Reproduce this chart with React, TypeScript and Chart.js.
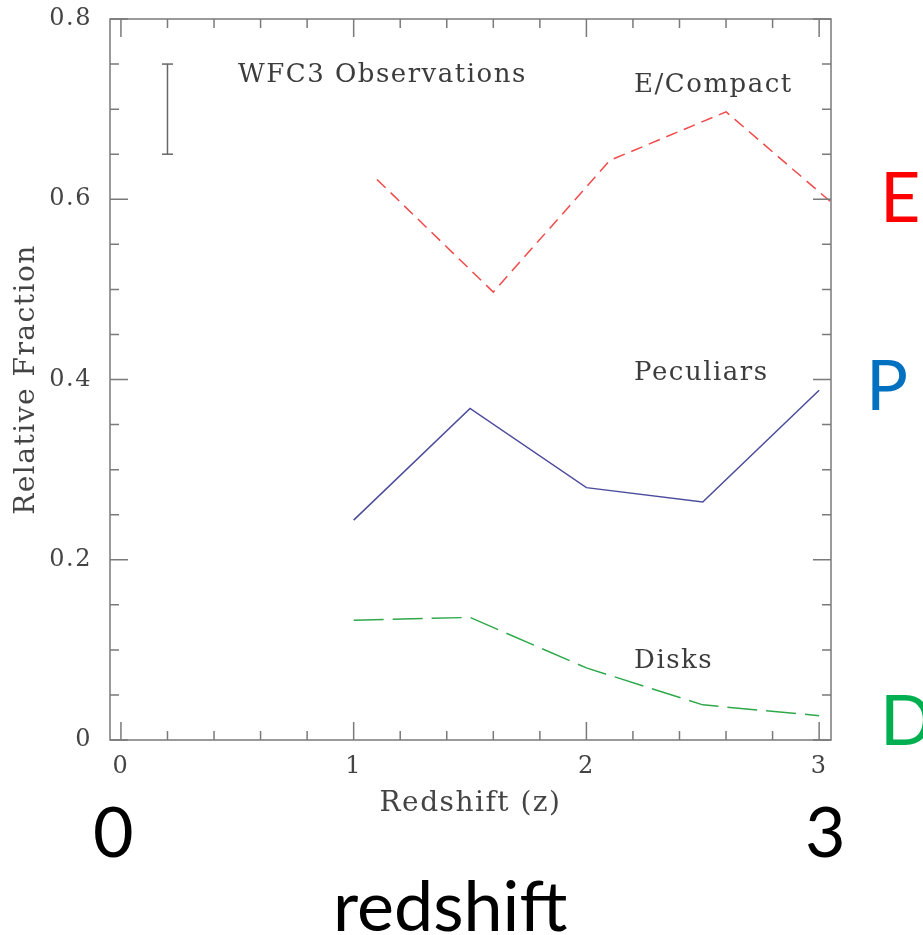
import React, { useEffect, useRef } from "react";
import { Chart, registerables } from "chart.js";

Chart.register(...registerables);

// ---- data ----
const Z_PECULIARS = [1, 1.5, 2, 2.5, 3];
const PECULIARS = [0.244, 0.368, 0.28, 0.264, 0.388];
const Z_DISKS = [1, 1.5, 2, 2.5, 3];
const DISKS = [0.133, 0.136, 0.08, 0.039, 0.027];
const Z_ECOMPACT = [1.1, 1.6, 2.1, 2.6, 3.1];
const E_COMPACT = [0.622, 0.497, 0.643, 0.697, 0.586];
const Z_ERRBAR = [0.2, 0.2];
const ERRBAR = [0.65, 0.75];

// ---- axes ----
const X_MIN = -0.047;
const X_MAX = 3.051;
const Y_MIN = 0;
const Y_MAX = 0.8;
const X_MAJOR = [0, 1, 2, 3];
const X_LABELS = ["0", "1", "2", "3"];
const X_MINOR = [0.2, 0.4, 0.6, 0.8, 1.2, 1.4, 1.6, 1.8, 2.2, 2.4, 2.6, 2.8];
const Y_MAJOR = [0, 0.2, 0.4, 0.6, 0.8];
const Y_LABELS = ["0", "0.2", "0.4", "0.6", "0.8"];
const Y_MINOR = [0.05, 0.1, 0.15, 0.25, 0.3, 0.35, 0.45, 0.5, 0.55, 0.65, 0.7, 0.75];

// ---- in-plot labels ----
const LABEL_TEXTS = ["WFC3 Observations", "E/Compact", "Peculiars", "Disks"];
const LABEL_Z = [0.503, 2.205, 2.205, 2.205];
const LABEL_F = [0.73, 0.719, 0.399, 0.08];

const SERIF = "'DejaVu Serif', serif";
const SANS = "Lato, 'Noto Sans', sans-serif";
const INK = "#444444";
const FRAME = "#7a7a7a";

const toXY = (xs: number[], ys: number[]) => xs.map((x, i) => ({ x, y: ys[i] }));

const spacingPlugin = {
  id: "spacing",
  beforeDraw(chart: any) {
    (chart.ctx as any).letterSpacing = "1.5px";
  },
};

const framePlugin = {
  id: "frameTicks",
  afterDatasetsDraw(chart: any) {
    const { ctx, chartArea: a, scales } = chart;
    const xs = scales.x;
    const ys = scales.y;
    ctx.save();
    ctx.strokeStyle = FRAME;
    ctx.lineWidth = 1.5;
    ctx.strokeRect(a.left, a.top, a.right - a.left, a.bottom - a.top);
    const xt = (v: number, len: number) => {
      const p = xs.getPixelForValue(v);
      ctx.beginPath();
      ctx.moveTo(p, a.bottom);
      ctx.lineTo(p, a.bottom - len);
      ctx.moveTo(p, a.top);
      ctx.lineTo(p, a.top + len);
      ctx.stroke();
    };
    const yt = (v: number, len: number) => {
      const p = ys.getPixelForValue(v);
      ctx.beginPath();
      ctx.moveTo(a.left, p);
      ctx.lineTo(a.left + len, p);
      ctx.moveTo(a.right, p);
      ctx.lineTo(a.right - len, p);
      ctx.stroke();
    };
    X_MAJOR.forEach((v) => xt(v, 18));
    X_MINOR.forEach((v) => xt(v, 9));
    Y_MAJOR.forEach((v) => yt(v, 18));
    Y_MINOR.forEach((v) => yt(v, 9));

    // in-plot labels
    (ctx as any).letterSpacing = "1.5px";
    ctx.fillStyle = "#3c3c3c";
    ctx.font = `26px ${SERIF}`;
    ctx.textAlign = "left";
    ctx.textBaseline = "alphabetic";
    LABEL_TEXTS.forEach((t, i) => {
      ctx.fillText(t, xs.getPixelForValue(LABEL_Z[i]), ys.getPixelForValue(LABEL_F[i]));
    });

    // slide annotations
    (ctx as any).letterSpacing = "0px";
    ctx.font = `70px ${SANS}`;
    ctx.fillStyle = "#000000";
    ctx.fillText("0", 93, 857);
    ctx.fillText("3", 805, 857);
    ctx.fillText("redshift", 333, 931);
    ctx.fillStyle = "#ff0000";
    ctx.fillText("E", 880, 222);
    ctx.fillStyle = "#0070c0";
    ctx.fillText("P", 866, 410);
    ctx.fillStyle = "#00b050";
    ctx.fillText("D", 880, 745);
    ctx.restore();
  },
};

export default function App() {
  const ref = useRef<HTMLCanvasElement>(null);
  useEffect(() => {
    if (!ref.current) return;
    const chart = new Chart(ref.current, {
      type: "line",
      data: {
        datasets: [
          {
            label: "E/Compact",
            data: toXY(Z_ECOMPACT, E_COMPACT),
            borderColor: "#f04a4a",
            borderWidth: 1.5,
            borderDash: [12, 7],
            pointRadius: 0,
            clip: 0,
          },
          {
            label: "Peculiars",
            data: toXY(Z_PECULIARS, PECULIARS),
            borderColor: "#4b4b9c",
            borderWidth: 1.5,
            pointRadius: 0,
          },
          {
            label: "Disks",
            data: toXY(Z_DISKS, DISKS),
            borderColor: "#2ea84a",
            borderWidth: 1.5,
            borderDash: [30, 9],
            pointRadius: 0,
          },
          {
            label: "error",
            data: toXY(Z_ERRBAR, ERRBAR),
            borderColor: "#666666",
            borderWidth: 1.5,
            pointStyle: "line",
            pointRadius: 5.5,
            pointBorderWidth: 1.5,
            pointBorderColor: "#666666",
          },
        ],
      },
      options: {
        animation: false,
        responsive: false,
        devicePixelRatio: 1,
        layout: { padding: { left: 0, top: 19, right: 92, bottom: 0 } },
        plugins: { legend: { display: false }, tooltip: { enabled: false } },
        scales: {
          x: {
            type: "linear",
            min: X_MIN,
            max: X_MAX,
            afterBuildTicks: (s: any) => {
              s.ticks = X_MAJOR.map((value) => ({ value }));
            },
            afterFit: (s: any) => {
              s.height = 195;
              s.paddingLeft = 0;
              s.paddingRight = 0;
            },
            ticks: {
              callback: (v: any) => {
                const i = X_MAJOR.indexOf(Number(v));
                return i >= 0 ? X_LABELS[i] : "";
              },
              font: { family: SERIF, size: 24 },
              color: INK,
              padding: 12,
              maxRotation: 0,
              autoSkip: false,
            },
            grid: { display: false, drawTicks: false },
            border: { display: false },
            title: {
              display: true,
              text: "Redshift (z)",
              font: { family: SERIF, size: 28 },
              color: INK,
              padding: { top: 0, bottom: 114 },
            },
          },
          y: {
            type: "linear",
            min: Y_MIN,
            max: Y_MAX,
            afterBuildTicks: (s: any) => {
              s.ticks = Y_MAJOR.map((value) => ({ value }));
            },
            afterFit: (s: any) => {
              s.width = 110;
              s.paddingTop = 0;
              s.paddingBottom = 0;
            },
            ticks: {
              callback: (v: any) => {
                const i = Y_MAJOR.findIndex((m) => Math.abs(m - Number(v)) < 1e-9);
                return i >= 0 ? Y_LABELS[i] : "";
              },
              font: { family: SERIF, size: 24 },
              color: INK,
              padding: 18,
              autoSkip: false,
            },
            grid: { display: false, drawTicks: false },
            border: { display: false },
            title: {
              display: true,
              text: "Relative Fraction",
              font: { family: SERIF, size: 28 },
              color: INK,
              padding: { top: 10, bottom: 0 },
            },
          },
        },
      },
      plugins: [spacingPlugin, framePlugin],
    } as any);
    return () => chart.destroy();
  }, []);
  return (
    <div style={{ position: "absolute", left: 0, top: 0, width: 923, height: 935, background: "#fff" }}>
      <canvas ref={ref} width={923} height={935} style={{ display: "block", width: 923, height: 935 }} />
    </div>
  );
}
